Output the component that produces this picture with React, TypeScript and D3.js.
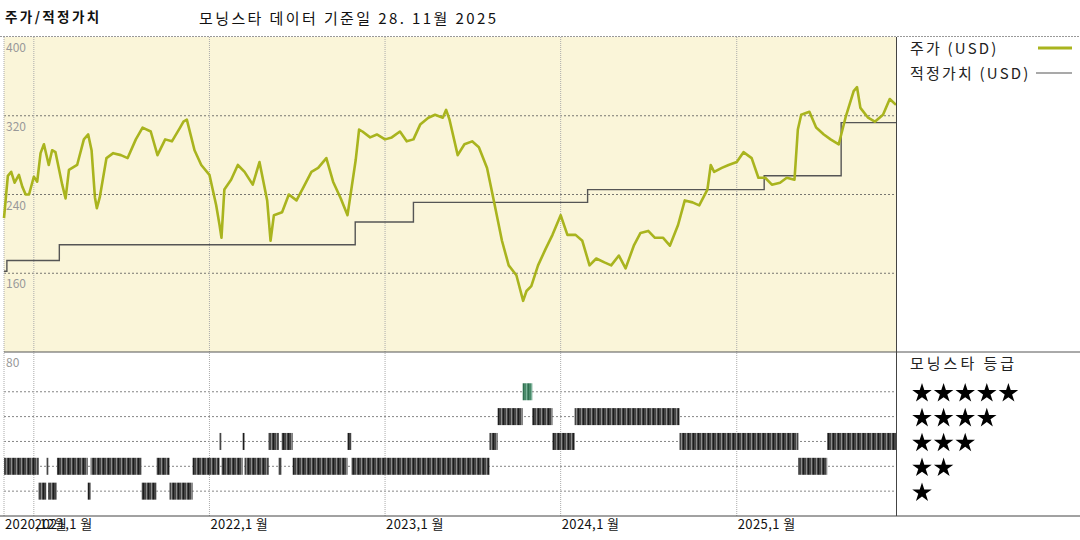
import React from "react";
import * as d3 from "d3";

const priceDates = ["2020-10-31","2020-11-08","2020-11-15","2020-11-22","2020-12-01","2020-12-08","2020-12-15","2020-12-22","2021-01-01","2021-01-08","2021-01-15","2021-01-22","2021-02-01","2021-02-08","2021-02-15","2021-03-01","2021-03-08","2021-03-15","2021-04-01","2021-04-15","2021-04-24","2021-05-01","2021-05-08","2021-05-12","2021-05-18","2021-06-01","2021-06-15","2021-07-01","2021-07-15","2021-08-01","2021-08-15","2021-09-01","2021-09-15","2021-10-01","2021-10-15","2021-11-01","2021-11-08","2021-11-15","2021-12-01","2021-12-15","2022-01-01","2022-01-15","2022-01-22","2022-01-26","2022-02-01","2022-02-15","2022-03-01","2022-03-15","2022-04-01","2022-04-15","2022-05-01","2022-05-08","2022-05-15","2022-06-01","2022-06-15","2022-07-01","2022-07-15","2022-08-01","2022-08-15","2022-09-01","2022-09-15","2022-10-01","2022-10-15","2022-11-01","2022-11-08","2022-11-15","2022-12-01","2022-12-15","2023-01-01","2023-01-15","2023-02-01","2023-02-15","2023-03-01","2023-03-15","2023-04-01","2023-04-15","2023-05-01","2023-05-08","2023-05-15","2023-06-01","2023-06-15","2023-07-01","2023-07-15","2023-08-01","2023-08-15","2023-09-01","2023-09-15","2023-10-01","2023-10-15","2023-10-22","2023-11-01","2023-11-15","2023-12-01","2023-12-15","2024-01-01","2024-01-15","2024-02-01","2024-02-15","2024-03-01","2024-03-15","2024-04-01","2024-04-15","2024-05-01","2024-05-15","2024-06-01","2024-06-15","2024-07-01","2024-07-15","2024-08-01","2024-08-15","2024-09-01","2024-09-15","2024-10-01","2024-10-15","2024-11-01","2024-11-08","2024-11-15","2024-12-01","2024-12-15","2025-01-01","2025-01-15","2025-02-01","2025-02-15","2025-03-01","2025-03-15","2025-04-01","2025-04-15","2025-05-01","2025-05-08","2025-05-15","2025-06-01","2025-06-15","2025-07-01","2025-07-15","2025-08-01","2025-08-15","2025-09-01","2025-09-08","2025-09-15","2025-10-01","2025-10-15","2025-11-01","2025-11-15","2025-11-28"];
const priceValues = [216,259,263,252,260,248,240,240,258,253,282,291,270,285,283,250,236,265,270,296,301,285,237,226,237,277,282,280,277,296,308,304,280,296,294,308,314,316,285,270,260,229,209,196,245,255,270,263,250,273,234,193,219,222,240,234,247,263,267,277,253,236,219,275,306,304,298,301,296,298,304,294,296,311,318,321,318,326,316,280,291,294,288,267,234,193,168,158,132,142,147,168,185,199,219,199,199,193,168,175,171,168,178,165,188,201,203,196,196,188,209,234,232,229,245,270,263,267,270,273,283,277,257,257,250,252,257,255,306,321,324,308,301,296,291,318,345,349,328,318,314,321,337,331];

const fairDates = ["2020-10-31","2020-11-06","2021-02-23","2022-10-31","2023-03-01","2024-02-26","2025-02-27","2025-08-06","2025-11-28"];
const fairValues = [162,173,189,212,232,245,259,313,313];

const ratingStarts = ["2020-10-31","2021-01-11","2021-01-27","2021-01-31","2021-02-18","2021-04-23","2021-04-29","2021-08-13","2021-09-13","2021-10-10","2021-11-27","2022-01-22","2022-01-26","2022-03-11","2022-03-15","2022-05-04","2022-05-25","2022-05-31","2022-06-23","2022-10-15","2022-10-23","2023-08-06","2023-08-23","2023-10-14","2023-11-03","2023-12-15","2024-01-30","2024-09-04","2025-05-09","2025-07-08"];
const ratingValues = [2,1,2,1,2,1,2,1,2,1,2,3,2,3,2,3,2,3,2,3,2,3,4,5,4,3,4,3,2,3];
const ratingEnd = "2025-11-28";

const tickDates = ["2020-10-31","2021-01-01","2022-01-01","2023-01-01","2024-01-01","2025-01-01"];
const tickLabels = ["2020,12월","2021,1 월","2022,1 월","2023,1 월","2024,1 월","2025,1 월"];
const yTicks = [400, 320, 240, 160, 80];
const starRows = [5, 4, 3, 2, 1];

const FONT = "'Noto Sans CJK KR', 'Noto Sans', sans-serif";
const parse = d3.timeParse("%Y-%m-%d");

export default function App() {
  const x0 = 4, x1 = 896;
  const topY0 = 37, topY1 = 352, botY1 = 516;
  const x = d3.scaleTime().domain([parse("2020-10-31")!, parse("2025-11-28")!]).range([x0, x1]);
  const y = d3.scaleLinear().domain([80, 400]).range([topY1, topY0]);
  const yr = d3.scaleLinear().domain([0, 6.6]).range([botY1, topY1]);

  const price = priceDates.map((d, i) => ({ d: parse(d)!, v: priceValues[i] }));
  const fair = fairDates.map((d, i) => ({ d: parse(d)!, v: fairValues[i] }));
  const line = d3.line<{ d: Date; v: number }>().x(p => x(p.d)).y(p => y(p.v));
  const stepLine = d3.line<{ d: Date; v: number }>().x(p => x(p.d)).y(p => y(p.v)).curve(d3.curveStepAfter);

  const segs = ratingStarts.map((s, i) => ({
    a: parse(s)!,
    b: parse(i + 1 < ratingStarts.length ? ratingStarts[i + 1] : ratingEnd)!,
    r: ratingValues[i],
  }));

  const star = d3.symbol().type(d3.symbolStar).size(118)()!;
  const barH = 17;

  return (
    <svg width={1080} height={540} style={{ position: "fixed", left: 0, top: 0, display: "block", background: "#fff" }} fontFamily={FONT}>
      <defs>
        <pattern id="barPat" width={5} height={20} patternUnits="userSpaceOnUse">
          <rect width={5} height={20} fill="#454545" />
          <rect x={1} width={1} height={20} fill="#8c8c8c" />
          <rect x={3} width={1} height={20} fill="#1c1c1c" />
        </pattern>
        <pattern id="greenPat" width={5} height={20} patternUnits="userSpaceOnUse">
          <rect width={5} height={20} fill="#4a8a6a" />
          <rect x={1} width={1} height={20} fill="#7db39b" />
          <rect x={3} width={1} height={20} fill="#2f6f50" />
        </pattern>
      </defs>

      {/* header */}
      <text x={5} y={22} fontSize={13.5} fontWeight="bold" fill="#111" letterSpacing={2.4}>주가/적정가치</text>
      <text x={199} y={24} fontSize={15} fill="#111" letterSpacing={2.4}>모닝스타 데이터 기준일 28. 11월 2025</text>

      {/* top panel background */}
      <rect x={x0} y={topY0} width={x1 - x0} height={topY1 - topY0} fill="#faf5d9" />
      <line x1={0} x2={1080} y1={topY0 - 0.5} y2={topY0 - 0.5} stroke="#999" strokeDasharray="2,1" />

      {/* horizontal gridlines top */}
      {yTicks.filter(t => t < 400 && t > 80).map(t => (
        <line key={t} x1={x0} x2={x1} y1={y(t)} y2={y(t)} stroke="#555" strokeDasharray="2,2" strokeWidth={0.8} />
      ))}
      {/* bottom panel rows */}
      {starRows.map(r => (
        <line key={r} x1={x0} x2={x1} y1={yr(r)} y2={yr(r)} stroke="#666" strokeDasharray="2,2" strokeWidth={0.8} />
      ))}
      {/* vertical gridlines */}
      {tickDates.map(t => (
        <line key={t} x1={x(parse(t)!)} x2={x(parse(t)!)} y1={topY0} y2={botY1} stroke="#aaa" strokeDasharray="1,1" />
      ))}

      {/* y labels */}
      {yTicks.map(t => (
        <text key={t} x={6} y={y(t) + 15} fontSize={12} fill="#999">{t}</text>
      ))}

      {/* fair value */}
      <path d={stepLine(fair)!} fill="none" stroke="#555" strokeWidth={1.4} />
      {/* price */}
      <path d={line(price)!} fill="none" stroke="#a9b41e" strokeWidth={2.6} strokeLinejoin="round" />

      {/* panel divider */}
      <line x1={x0} x2={1080} y1={topY1} y2={topY1} stroke="#555" strokeWidth={1} />

      {/* rating bars */}
      {segs.map((s, i) => (
        <rect key={i} x={x(s.a)} width={Math.max(1.5, x(s.b) - x(s.a))} y={yr(s.r) - barH / 2} height={barH}
          fill={s.r === 5 ? "url(#greenPat)" : "url(#barPat)"} />
      ))}

      {/* right panel borders */}
      <line x1={x1 + 0.5} x2={x1 + 0.5} y1={topY0} y2={botY1} stroke="#444" />
      <line x1={0} x2={1080} y1={botY1} y2={botY1} stroke="#444" />

      {/* legend */}
      <text x={910} y={54} fontSize={15} fill="#222" letterSpacing={2.2}>주가 (USD)</text>
      <line x1={1038} x2={1072} y1={48} y2={48} stroke="#a9b41e" strokeWidth={3} />
      <text x={910} y={79} fontSize={15} fill="#222" letterSpacing={2.2}>적정가치 (USD)</text>
      <line x1={1036} x2={1072} y1={73} y2={73} stroke="#555" strokeWidth={1.2} />

      <text x={910} y={369} fontSize={15} fill="#222" letterSpacing={3}>모닝스타 등급</text>
      {starRows.map(r => (
        <g key={r}>
          {d3.range(r).map(k => (
            <path key={k} d={star} transform={`translate(${922 + k * 21.6},${yr(r) + 1.5})`} fill="#000" />
          ))}
        </g>
      ))}

      {/* x tick labels */}
      {tickDates.map((t, i) => (
        <text key={t} x={x(parse(t)!) + 1} y={529} fontSize={13} fill="#111" letterSpacing={0.4}>{tickLabels[i]}</text>
      ))}
    </svg>
  );
}
